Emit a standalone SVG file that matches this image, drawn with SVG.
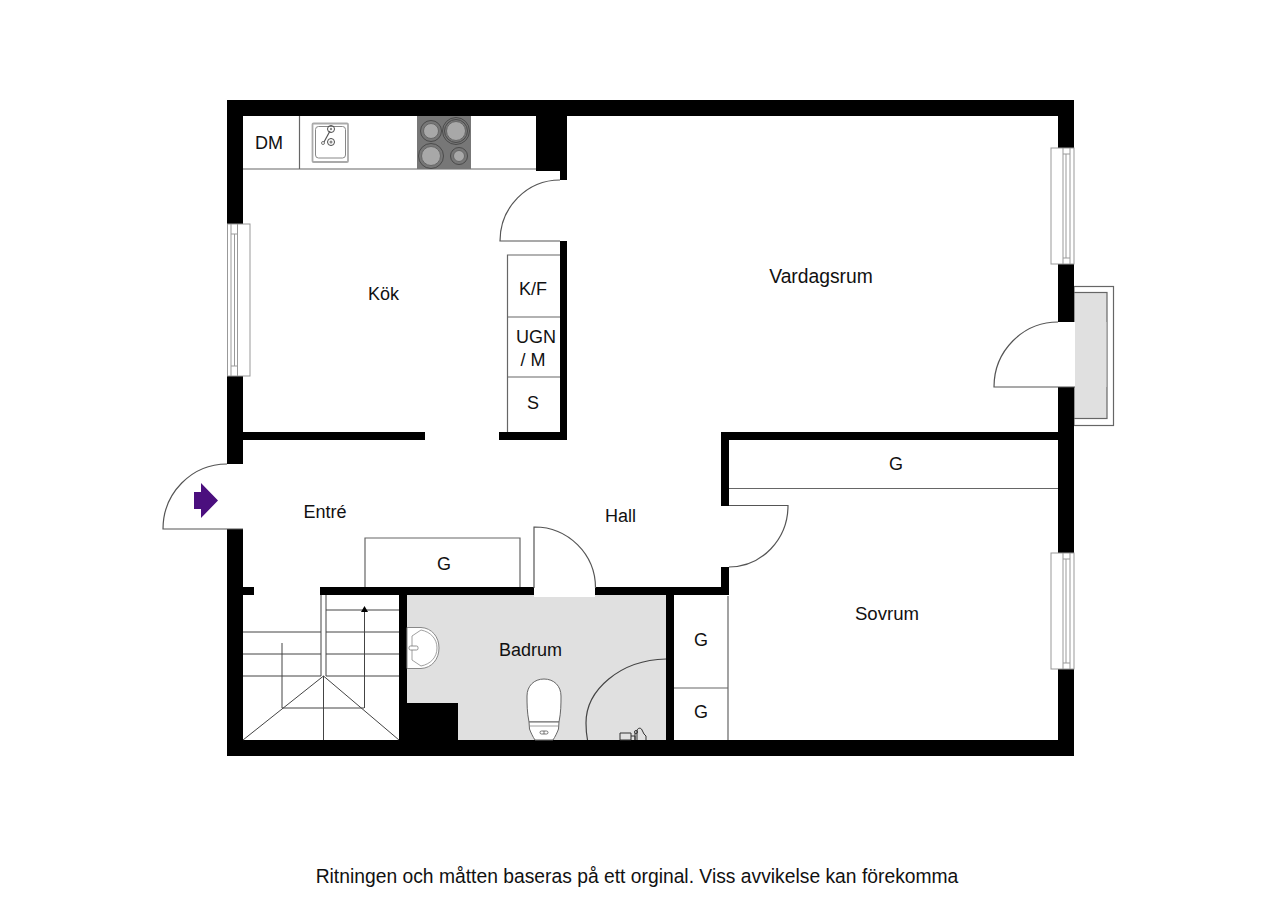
<svg xmlns="http://www.w3.org/2000/svg" width="1280" height="905" viewBox="0 0 1280 905">
<style>
.w{fill:#000;stroke:none}
.l{fill:none;stroke:#666;stroke-width:1.2}
.d{fill:#fff;stroke:#555;stroke-width:1.2}
.s{fill:none;stroke:#444;stroke-width:1}
.win{fill:#fff;stroke:#999;stroke-width:1}
.t{font-family:"Liberation Sans",Arial,sans-serif;font-size:18px;fill:#111;text-anchor:middle}
.big{font-size:19.3px}
.mid{font-size:18.6px}
.b{fill:#a8a8a8;stroke:#666;stroke-width:1}
.r{fill:none;stroke:#4a4a4a;stroke-width:1}
.g{fill:none;stroke:#999;stroke-width:1}
</style>
<rect width="1280" height="905" fill="#fff"/>
<g id="floors">
<rect x="407" y="595" width="259" height="145" fill="#e0e0e0"/>
<rect x="534" y="593" width="61" height="4" fill="#fff"/>
</g>
<g id="balcony">
<rect x="1074" y="286.500" width="39.500" height="139" fill="#fff" stroke="#666" stroke-width="1.200"/>
<rect x="1074" y="292.500" width="33" height="126" fill="#e0e0e0" stroke="#666" stroke-width="1.200"/>
</g>
<g id="walls">
<path class="w" d="M227 100H1074V322H1058V116H567V171H536V116H243V224H227ZM227 376H243V432H425V440H243V464H227ZM227 529H243V587H254V595H243V740H399V595H320V587H534V595H407V703H458V740H666V595H595V587H721V567H729V595H674V740H1058V669H1074V756H227ZM1058 387H1074V553H1058V440H729V506H721V432H1058ZM560 241H567V440H499V432H560Z"/>
<rect class="w" x="560" y="171" width="7" height="9"/>
<rect class="w" x="1058" y="264" width="16" height="58"/>
<rect x="1058" y="148" width="16" height="116" fill="#fff"/>
<rect x="1058" y="322" width="17" height="65" fill="#fff"/>
<rect x="1075" y="322" width="31.400" height="65" fill="#e0e0e0"/>
</g>
<g id="windows">
<g id="window-west">
<rect class="win" x="227.500" y="224" width="22.500" height="152"/>
<path class="g" d="M231 224V376M234.500 234V366M237.500 224V376M231 234H237.500M231 366H237.500"/>
</g>
<g id="window-east-1">
<rect class="win" x="1051" y="148" width="23" height="116"/>
<path class="g" d="M1063 148V264M1070 148V264M1066 154V258M1063 154H1070M1063 258H1070"/>
</g>
<g id="window-east-2">
<rect class="win" x="1051" y="553" width="23" height="116"/>
<path class="g" d="M1063 553V669M1070 553V669M1066 559V663M1063 559H1070M1063 663H1070"/>
</g>
</g>
<g id="doors">
<path class="d" d="M560 180A60 61 0 0 0 500 241H560"/>
<path class="d" d="M1058 322A64 65 0 0 0 994 387H1075"/>
<path class="d" d="M227 464A64 65 0 0 0 163 529H243"/>
<path class="d" d="M729 505.500H788A59 61.500 0 0 1 729 567"/>
<path class="d" d="M534 588V527A61 61 0 0 1 595.500 588"/>
<path d="M666 659C620 660 586 690 586 723Q586 732 587.500 740" fill="none" stroke="#444" stroke-width="1.200"/>
<rect x="534.500" y="589" width="60.500" height="6" fill="#fff"/>
<rect x="243.500" y="465" width="1" height="63" fill="#fff"/>
</g>
<g id="kitchen-counter">
<path class="l" d="M243 169H536M299.500 116V169"/>
<g id="sink">
<rect x="312.500" y="123.500" width="35.500" height="38.500" rx="1" fill="#fff" stroke="#aaa" stroke-width="1.800"/>
<rect x="315.500" y="126.500" width="30" height="31.500" rx="3" fill="none" stroke="#888" stroke-width="1"/>
<circle cx="331" cy="129" r="3.500" class="r"/>
<circle cx="331" cy="142" r="3.500" class="r"/>
<circle cx="331" cy="142" r="1.500" fill="#888"/>
<circle cx="331" cy="129" r="1.200" fill="#888"/>
<path d="M330 131L324 142" stroke="#555" stroke-width="1.200" fill="none"/>
<circle cx="323" cy="143" r="1.500" fill="#fff" stroke="#555" stroke-width="0.800"/>
</g>
<g id="hob">
<rect x="417" y="116" width="54" height="53" fill="#777"/>
<circle class="r" cx="431" cy="131" r="10.500"/>
<circle class="b" cx="431" cy="131" r="7.500"/>
<circle class="r" cx="456" cy="131" r="13.500"/>
<circle class="r" cx="456" cy="131" r="11.500"/>
<circle class="b" cx="456" cy="131" r="9.500"/>
<circle class="r" cx="431" cy="156" r="12.500"/>
<circle class="b" cx="431" cy="156" r="9.500"/>
<circle class="r" cx="459" cy="156" r="8.500"/>
<circle class="b" cx="459" cy="156" r="5.500"/>
</g>
</g>
<g id="kitchen-units">
<path class="l" d="M560 255H507.500V432M507.500 317H560M507.500 377H560"/>
</g>
<g id="closets">
<path class="l" d="M365 587V538H520V587"/>
<path class="l" d="M729 488.500H1058"/>
<path class="l" d="M728 596V740M674 688H728"/>
</g>
<g id="stairs">
<path class="s" d="M243 632H321M243 654H321M243 676H321M326 610H399M326 632H399M326 654H399M326 676H399M321 595V676M326 595V676M323.500 676L243 740M323.500 676L399 740M323.500 676V740M282 643V708M282 708H364M364.500 612V708"/>
<path d="M361 612L364.500 606L368 612Z" fill="#000"/>
</g>
<g id="basin">
<path d="M407 627.500H421C432 628 439 637 439 648C439 659 432 668 421 668.500H407Z" fill="#fff" stroke="#888" stroke-width="1"/>
<path d="M412 636L421 630C431 632 437 639 437 648C437 657 431 664 421 666L412 660Z" fill="none" stroke="#888" stroke-width="0.800"/>
<rect x="409" y="646" width="9" height="4" rx="1.500" fill="#fff" stroke="#777" stroke-width="0.800"/>
</g>
<g id="toilet">
<path d="M529 722C527 712 527 704 527 696C527 686 534 679 544 679C554 679 561 686 561 696C561 704 561 712 559 722Z" fill="#fff" stroke="#666" stroke-width="1"/>
<path d="M529 722H559L558.500 729C557 733 555 737 553 740H535C533 737 531 733 529.500 729Z" fill="#fff" stroke="#666" stroke-width="1"/>
<path d="M530 726H558" stroke="#888" stroke-width="0.800"/>
<rect x="540" y="731" width="8" height="3" rx="1.500" fill="none" stroke="#555" stroke-width="0.800"/>
<path d="M544 731V734" stroke="#555" stroke-width="0.800"/>
</g>
<g id="shower-fixture" fill="none" stroke="#333" stroke-width="1">
<path d="M620 733H631V740H620Z"/>
<path d="M631 736H635V740M635 733V740M637 740V731C637 728 641 727 642 730L644 734L646 736V740"/>
<circle cx="636" cy="732" r="1.500"/>
</g>
<g id="entrance-arrow">
<path d="M194 492H201V483L218 500.500L201 518V509H194Z" fill="#4b0f7e"/>
</g>
<g id="labels">
<text class="t" x="269" y="148.500">DM</text>
<text class="t" x="383.500" y="300">Kök</text>
<text class="t" x="533" y="295">K/F</text>
<text class="t" x="536" y="342.500">UGN</text>
<text class="t" x="533" y="365.500">/ M</text>
<text class="t" x="533" y="409">S</text>
<text class="t big" x="821" y="282.500">Vardagsrum</text>
<text class="t" x="896" y="470">G</text>
<text class="t" x="325" y="517.500">Entré</text>
<text class="t" x="620.500" y="522">Hall</text>
<text class="t" x="444" y="570">G</text>
<text class="t mid" x="887" y="620">Sovrum</text>
<text class="t" x="530.500" y="656">Badrum</text>
<text class="t" x="701" y="646">G</text>
<text class="t" x="701" y="718">G</text>
<text class="t big" x="637" y="883">Ritningen och måtten baseras på ett orginal. Viss avvikelse kan förekomma</text>
</g>
</svg>
